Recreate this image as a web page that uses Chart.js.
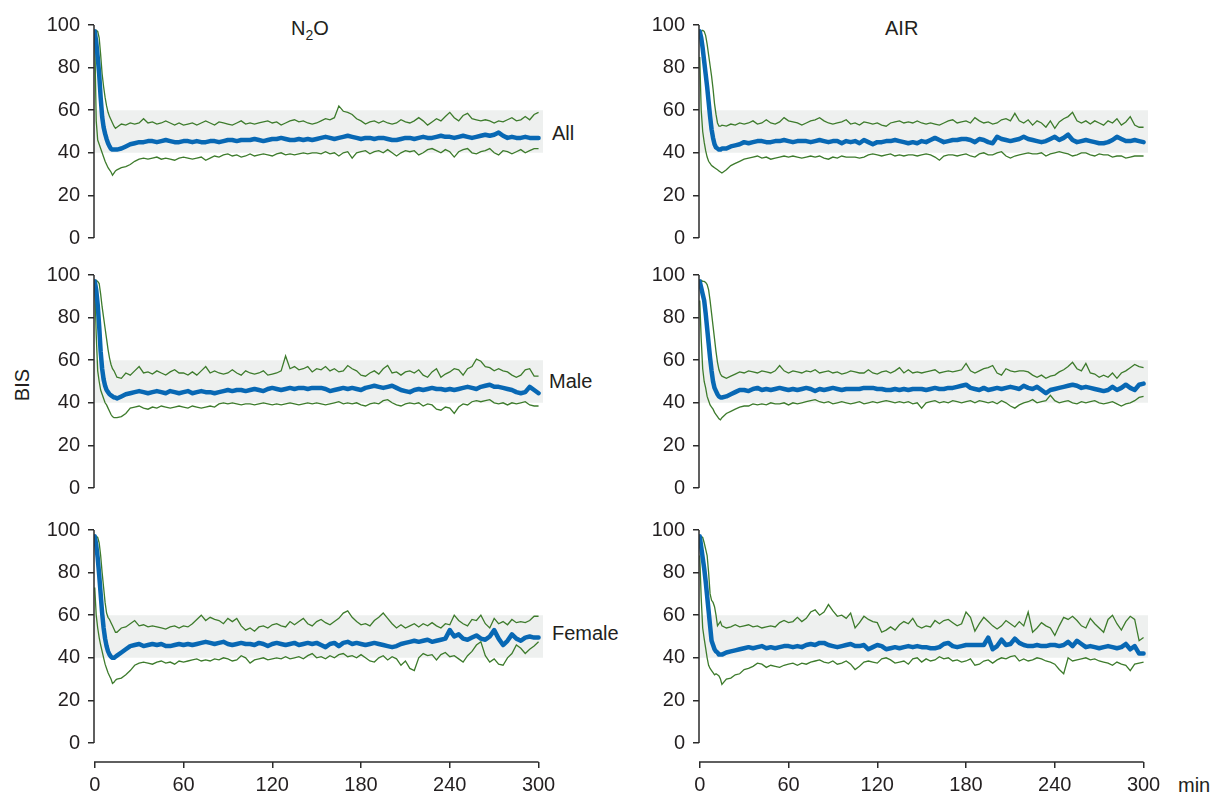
<!DOCTYPE html>
<html>
<head>
<meta charset="utf-8">
<script src="https://cdn.jsdelivr.net/npm/chart.js@4.4.1/dist/chart.umd.min.js"></script>
<style>
  body { margin: 0; background: #fff; width: 1216px; height: 797px; position: relative; overflow: hidden;
         font-family: "Liberation Sans", Arial, sans-serif; color: #231f20; }
  canvas { position: absolute; }
  .lbl { position: absolute; font-size: 20px; line-height: 20px; white-space: nowrap; }
  .lbl sub { font-size: 14px; vertical-align: -5px; line-height: 0; }
</style>
</head>
<body>
<div class="lbl" style="left:291px;top:18px">N<sub>2</sub>O</div>
<div class="lbl" style="left:885px;top:18px">AIR</div>
<div class="lbl" style="left:552px;top:123px">All</div>
<div class="lbl" style="left:549px;top:371px">Male</div>
<div class="lbl" style="left:552px;top:623px">Female</div>
<div class="lbl" style="left:5px;top:375px;transform:rotate(-90deg);width:34px;text-align:center">BIS</div>
<div class="lbl" style="left:1178px;top:775px">min</div>

<script>
// minutes after induction
const TIME = [0,1,2,3,4,5,6,7,8,9,10,11,12,13,14,
  15,18,21,24,27,30,33,36,39,42,45,48,51,54,57,
  60,63,66,69,72,75,78,81,84,87,90,93,96,99,102,
  105,108,111,114,117,120,123,126,129,132,135,138,141,144,147,
  150,153,156,159,162,165,168,171,174,177,180,183,186,189,192,
  195,198,201,204,207,210,213,216,219,222,225,228,231,234,237,
  240,243,246,249,252,255,258,261,264,267,270,273,276,279,282,
  285,288,291,294,297,300];

const X_TICKS = [0, 60, 120, 180, 240, 300];
const Y_TICKS = [0, 20, 40, 60, 80, 100];
const BAND = [40, 60];

// N2O - All
const N2O_ALL_MED = [97,92,85,77,66,57,52,49,46.5,44.5,43,41.8,41.5,41.5,41.5,
  41.5,42,43,44,44.5,45,45,45.5,45.5,45,45.5,46,45.5,45,45,
  45.5,45.5,45,45.5,45,45,45.5,45.5,45,45.5,46,46,45.5,46,46,
  46,46.5,46,45.5,46,46.5,46.5,47,46.5,46,46,46.5,46,46.5,46,
  46.5,47,47.5,47,46.5,47,47.5,48,47.5,47,46.5,47,47,46.5,47,
  47,46.5,46,46,46.5,47,47,46.5,47,47.5,47,47,47.5,48,47.5,
  47.5,47,47.5,48,47.5,47,47.5,48,48.5,48,48.5,49.5,48,47,47.5,
  47,47,47.5,47,47,47];
const N2O_ALL_HI = [97,97.5,97,94,86,77,71,66,62,59,57,55.5,54,52.5,51.5,
  52,53.5,53,54,53.5,54,56,54,54.5,53.5,54,55,54,53,54,
  53,53.5,54,53,54,55,54,53,54.5,54,53.5,53,54,55,53.5,
  54,53.5,54,54.5,55,54,54.5,53,54,55,55.5,54.5,55,54,53.5,
  54,55,56,55.5,56.5,62,59.5,59,58,56,55,53.5,54.5,55,54,
  55,54,53.5,54,55.5,54.5,54,55,56.5,55,53,54.5,56,55,57,
  59,56.5,55,57.5,58.5,56,55.5,55,55.5,55,54,55,54.5,55.5,56.5,
  55,55.5,57,55.5,58,59];
const N2O_ALL_LO = [95,55,46,44,42,40,38,36,34.5,33,32,31,29.5,30.5,31.5,
  32,33,33.5,34.5,36,37,37.5,37,37.5,38,37,37.5,37,36.5,37.5,
  38,37.5,37,37.5,38,36.5,37.5,38.5,38,39,39.5,38.5,39,38,38.5,
  39.5,38.5,39,39.5,39,38.5,39.5,40,39,39.5,39,39.5,40,39.5,40,
  40,39.5,40.5,39.5,40,38.5,40,40.5,37.5,40,40.5,41,39.5,40.5,41,
  40,41.5,40,38.5,40,41,40.5,41,39,40,41.5,42,41,40,41.5,
  40.5,38,40.5,41.5,42,40,39.5,40.5,41,42,40,39,41,40.5,39.5,
  40.5,41.5,40,41,42,42];

// AIR - All
const AIR_ALL_MED = [97,94,89,83,77,71,64,57,51,47,44,42.5,42,41.5,41.5,
  42,42,43,43.5,44,45,44.5,45,45.5,45.5,45,45,45.5,45.5,46,
  45.5,45,45.5,45.5,45.5,45,45.5,46,45.5,45,45.5,45.5,44.5,45.5,45,
  45.5,44.5,46,45,44,45,45,45.5,45.5,46,45.5,45,44.5,45,44.5,
  45.5,45,46,47,46,45,45.5,46,46,46.5,46.5,46,45,46.5,46,
  45,44.5,47.5,46.5,46,45.5,46,46.5,47.5,46.5,46,45.5,45,45.5,46.5,
  47.5,46,47,48.5,46,45,45.5,46,45.5,45,44.5,44.5,45,46,47.5,
  46.5,45.5,45.5,46,45.5,45];
const AIR_ALL_HI = [96,97,97.5,97,95,91,86,81,76,70,63,58,54,52.5,52.5,
  53,52.5,53.5,53,54,53.5,54,55,53.5,54,55.5,54,53.5,54.5,56.5,
  55,54.5,54,53,54,55,55.5,56.5,55,54,53.5,54,54.5,55.5,53.5,
  54,53,54.5,54,53.5,54,53,52.5,54,54.5,55,54,54.5,54,55,
  54,53.5,54,53.5,53,54,55,55.5,54,54.5,55,54,56.5,55,54,
  54.5,53.5,54,55.5,56,55,58.5,55,54,55.5,53,55,54,52,55,
  51.5,54.5,56,57,59,55,54,55,53.5,55,54,53,55,54,56,
  53,54.5,57,53,52,52];
const AIR_ALL_LO = [85,60,50,45,41,38,36,35,34,33.5,33,32.5,32,31.5,31,
  30.5,32,34,35,36,37,37.5,38,38.5,37.5,38,37,37.5,38,38.5,
  38,38.5,38,37.5,38,38.5,38,38.5,37.5,37,38,37.5,38.5,38,38,
  38,37.5,38,39,39.5,39,38.5,39,39.5,38.5,39,38.5,39,39,38.5,
  39,39.5,39,38,36.5,38.5,39,39,38.5,39,39.5,38.5,38,39.5,40,
  39,39,40,40.5,38.5,37.5,38.5,39,39.5,40,39.5,39.5,40,38.5,39.5,
  40,40.5,40,39.5,38.5,39,40,40,39,38.5,39.5,39,39,38,38.5,
  38.5,37.5,38,38.5,38.5,38.5];

// N2O - Male
const N2O_MALE_MED = [97,93,86,76,64,56,51,48,46,45,44,43.5,43,42.5,42.5,
  42,43,44,44.5,45,45.5,45,44.5,45,45.5,45,44.5,45.5,45,44.5,
  45,45.5,44.5,45,45.5,45,45,44.5,45,45.5,46,45.5,46,46,45.5,
  46,46.5,46,45.5,46.5,47,46.5,46,46.5,47,46.5,47,47,46.5,47,
  47,47,46.5,45.5,46,46.5,47,46.5,47,46.5,46,47,47.5,48,47.5,
  47,47.5,48,47,46,45.5,45,46,46.5,46,46.5,47,46.5,46.5,46,
  46.5,46,46.5,47,47.5,47,46.5,47.5,48,48.5,47.5,47.5,47,46.5,46,
  45,44.5,45,47.5,46,44.5];
const N2O_MALE_HI = [97,97.5,97,96,91,85,80,75,70,65,61,58,56,55,53.5,
  52,51.5,54,53,55,57,54,54.5,53.5,55,54,53,54.5,55.5,54,
  54,53,54.5,53,55,57,54,55,54,53.5,54,55.5,54,53,55,
  54,53.5,54,55,53,53.5,54,55,62,56,57,55.5,56,57,54.5,
  56,55.5,57,55,56,54.5,55,57.5,56,55,53,52.5,54,55,53.5,
  56,57.5,54,54.5,53,54.5,55,54,55.5,53,52,54.5,56,52,53.5,
  54.5,56,55.5,53,56,57,60.5,59.5,57,56.5,55,56,55,54.5,53,
  52,53,55.5,56,52.5,52.5];
const N2O_MALE_LO = [96,72,55,50,46,44,42,40,39,37.5,36,34.5,33.5,33,33,
  33,33.5,35,37.5,38,38.5,37.5,37,38,37.5,38.5,38,37.5,38,38.5,
  38,37.5,38.5,38,37.5,38,38.5,38,39.5,40,39.5,40,39.5,39,39.5,
  39.5,39,39.5,40,39.5,39,39.5,39,39.5,40,39.5,39,39.5,40,39.5,
  40,39.5,39,39.5,40,40.5,39.5,40,39.5,40,39,38.5,39.5,40,39.5,
  41,41.5,40,39,38.5,39.5,40,39.5,40,38.5,39.5,39,37,36.5,38,
  37.5,35,38,39.5,39,40.5,41,40.5,41,41.5,40,39.5,40,39,40,
  39.5,40,40.5,39,38.5,38.5];

// AIR - Male
const AIR_MALE_MED = [97,94,91,88,82,75,68,61,55,50,47,45.5,44,43,42.5,
  42.5,43,44,45,46,46,45.5,46.5,47,46,46.5,46,46.5,47,46.5,
  46,46.5,46,46.5,47,46.5,45.5,46.5,46,46.5,47,46.5,46,46.5,46.5,
  46.5,46.5,47,47,47,46.5,46.5,46,46,46.5,46,46.5,46,46.5,46.5,
  46.5,46,46.5,47,46.5,46.5,47,47,47.5,48,48.5,47,46.5,46,47,
  46,46.5,47,46.5,47,47.5,47,46.5,48,47,46.5,47.5,46,44.5,46,
  46.5,47,47.5,48,48.5,48,47,47.5,47,46.5,46,45.5,46,47.5,46,
  47,48.5,47,46,48.5,49];
const AIR_MALE_HI = [97,97.5,97,97,96.5,95.5,93,88,82,76,70,64,59,55.5,53.5,
  52.5,51.5,52.5,53.5,54.5,54,55,54.5,54,55,54.5,54,55,57.5,55,
  54,55,54.5,54,55,54.5,55.5,54,54.5,55,54,54.5,53.5,54,55,
  54.5,54,54,55.5,54,53.5,54.5,55,54,55,56.5,54,55.5,54,54.5,
  54,54.5,55,55.5,54,54.5,55,54.5,55,55.5,58.5,55,54,55,56,
  56.5,57.5,54,53,56,55,54.5,55,55,54.5,53,52,53,51.5,52.5,
  53,54.5,55.5,57,59,56,55,58.5,54,53.5,52,53,52,54,51.5,
  54,55,56.5,58,57,56.5];
const AIR_MALE_LO = [88,70,56,50,47,43,41,39,38,37,35.5,34.5,33.5,32.5,32,
  33,35,36,37,38,38.5,38.5,39.5,39,39.5,39,40,39.5,39.5,40,
  39,40,39.5,40,40.5,41,41.5,40.5,40,40.5,39.5,40,40.5,40,39.5,
  40,40.5,39.5,40,40.5,40,40.5,41,40.5,40,40.5,40,40.5,39.5,40,
  37.5,40,40.5,41,40,40.5,40,41,40.5,40,40.5,41,40,41,40.5,
  40,40.5,39.5,41,40,38.5,37.5,39,40,40.5,41.5,40,40.5,41,43.5,
  41,40,40.5,41,40,39.5,40.5,40,40.5,41,40,39.5,40,40.5,39.5,
  38.5,39.5,40,41,42.5,43];

// N2O - Female
const N2O_FEMALE_MED = [97,93,87,79,70,61,54,49,45.5,43,41.5,40.5,40,40,40.5,
  41,42.5,44,45.5,46,46.5,45.5,46,46.5,46,46.5,45.5,45.5,46,46.5,
  46,46.5,46,46.5,47,47.5,47,46.5,47,47.5,46.5,46,46.5,47,46.5,
  46.5,46,47,46.5,45.5,46.5,47,46.5,46,46.5,47,46,46.5,47,46.5,
  47,46,45,46.5,47,45.5,47,47.5,46.5,47,46.5,46,46.5,47,46.5,
  46,45.5,45,45.5,46.5,47,47.5,48,47.5,48,48.5,47.5,48,48.5,49,
  53,50,51,49,48.5,49.5,50.5,49,48.5,50,53,49,46,48,51,
  49,48,49.5,50,49.5,49.5];
const N2O_FEMALE_HI = [97.5,97,96.5,94,88,80,73,66,61,59,58,56.5,55,53.5,52,
  52,54,54.5,56,57.5,55,55.5,54.5,55,54.5,54,53.5,54.5,55,54,
  55,54.5,56,58,60,57.5,59,58,57.5,56,58.5,57,58.5,55,53,
  54,52.5,54.5,55,54,55.5,56,55,54.5,57,55.5,57,58.5,56,55,
  57,58,56.5,55.5,57,58.5,61,62,59,57,55.5,56,55,57.5,59,
  61,58.5,56,54,55.5,54,55,56,54.5,56,55,56.5,55,54,56,
  55.5,60,57.5,56,55,58,57.5,60,56,54,58.5,56,57,55.5,58,
  56.5,57,56.5,57.5,59.5,59.5];
const N2O_FEMALE_LO = [73,60,54,49.5,46,43,40,37,35,33,31.5,30,28,28.5,29.5,
  30,30.5,32,34,36.5,37.5,38,37.5,37,38,38.5,37.5,38,37,38.5,
  38,38.5,39,39.5,38.5,39,38.5,39.5,39,40,39.5,38.5,39,41,40,
  37.5,39,39.5,40,39,39.5,40,39.5,40.5,39.5,40,40.5,39.5,41,42,
  40,40.5,39.5,41,40,41.5,42,40.5,41,40,41.5,40,38.5,38,40,
  41,39,40.5,39.5,36.5,38.5,35,34,40,42,41,41.5,39,41.5,42.5,
  40.5,41,39.5,38,41,43,46,47.5,41,38,39.5,37,36.5,40,42,
  46,44.5,42,44,45.5,47.5];

// AIR - Female
const AIR_FEMALE_MED = [97,92,87,82,76,69,62,55,48,46,44,43,42.5,41.5,41.5,
  41.5,42.5,43,43.5,44,44.5,45,44.5,45,45.5,44.5,45,44.5,45,45.5,
  45.5,45,45.5,45,46,46.5,46,47,47,46,45.5,45,45.5,46,46.5,
  45.5,45.5,46,44,45,46,45.5,44,44.5,45,44.5,45,45.5,45,45.5,
  45,45,44.5,44.5,45,46.5,47,45.5,45,45.5,46,46,46,46,46,
  49.5,44,45.5,48.5,46,46.5,49,47,46,45.5,45.5,46,45.5,45.5,46,
  46,45.5,46,47.5,45.5,48,46.5,45,45.5,45,44.5,45,45.5,45,44.5,
  45,46.5,44,45.5,42,42];
const AIR_FEMALE_HI = [97,97,96.5,94,91,88,80,70,67,66,64,60,55,56,57,
  55,54,54.5,55.5,54.5,55,55.5,54.5,55,54,54.5,55,54.5,56.5,57.5,
  56.5,57,59,57,58.5,61.5,62.5,60,61.5,65,62,59.5,60,58.5,61,
  54,56.5,59.5,58,57,56.5,52,53,54.5,53,55.5,57,56,58.5,55,
  54,55,54.5,57.5,56,57.5,58,56.5,55,56,61.5,59,52.5,56,59,
  57,55,53.5,55,57.5,56,54.5,57,55,61.5,52,54,56.5,55,54,
  50.5,55,59,58,59.5,57.5,55,54,58.5,56,54,52,58,60,56,
  53,57,59.5,58,48,49.5];
const AIR_FEMALE_LO = [88,68,54,49,44.5,40,36.5,35,34,33,32,32.5,32,31.5,30,
  27.5,30,30.5,32,32.5,34.5,35,36,37.5,37,35.5,36.5,36,35.5,36.5,
  37,37.5,36.5,37.5,37,38,38.5,39,38,37.5,38.5,37,37.5,38.5,37,
  34.5,36,38,38.5,38,37.5,39.5,40,39,37.5,38,38.5,37,39.5,40,
  38,39.5,38.5,39,40.5,39.5,40,38.5,39,38,38.5,39.5,36.5,37,38.5,
  39,37.5,39,40,39.5,40.5,41,38.5,39.5,38.5,39,40,39.5,38.5,38,
  37,34.5,32.5,40,38.5,39,39.5,40,39,39.5,38.5,38,37.5,36.5,38,
  37,36.5,34,37,37.5,38];

const BLUE = '#0868b4';
const GREEN = '#3d7b2c';
const BAND_COLOR = '#eef0ef';
const AXIS_COLOR = '#2b2b2b';

Chart.defaults.font.family = '"Liberation Sans", Arial, sans-serif';
Chart.defaults.font.size = 20;
Chart.defaults.color = '#231f20';

const PX_PER_MIN = 1.48;
const PX_PER_BIS = 2.13;
const X_MIN = -0.5, X_MAX = 303;
// top/bottom padding must exceed half a tick label plus tick padding, or Chart.js shrinks the area
const Y_AXIS_W = 70, PAD_T = 26, PAD_R = 20, PAD_B = 26, X_AXIS_H = 45;

// draws the axis spines only over 0-100 and 0-300, like the original
const axisLines = {
    id: 'axisLines',
    afterDraw(chart) {
        const { ctx, chartArea, scales: { x, y } } = chart;
        ctx.save();
        ctx.strokeStyle = AXIS_COLOR;
        ctx.lineWidth = 1.5;
        ctx.beginPath();
        ctx.moveTo(chartArea.left, y.getPixelForValue(100));
        ctx.lineTo(chartArea.left, y.getPixelForValue(0));
        if (x.options.display) {
            ctx.moveTo(chartArea.left, chartArea.bottom);
            ctx.lineTo(x.getPixelForValue(300), chartArea.bottom);
        }
        ctx.stroke();
        ctx.restore();
    }
};

function toPoints(values) {
    return TIME.map((t, i) => ({ x: t, y: values[i] }));
}

function makePanel(left, top, showX, med, hi, lo) {
    const areaW = Math.round((X_MAX - X_MIN) * PX_PER_MIN);
    const areaH = showX ? 232 : 213;
    const yMin = showX ? -(areaH - 100 * PX_PER_BIS) / PX_PER_BIS : 0;

    const canvas = document.createElement('canvas');
    canvas.width = Y_AXIS_W + areaW + PAD_R;
    canvas.height = PAD_T + areaH + (showX ? X_AXIS_H : PAD_B);
    canvas.style.left = (left - Y_AXIS_W) + 'px';
    canvas.style.top = (top - PAD_T) + 'px';
    document.body.appendChild(canvas);

    const grid = {
        drawOnChartArea: false,
        drawTicks: true,
        tickLength: 6,
        color: AXIS_COLOR,
        lineWidth: 1.5
    };

    new Chart(canvas.getContext('2d'), {
        type: 'line',
        data: {
            datasets: [
                { data: toPoints(med), borderColor: BLUE, borderWidth: 4.5, borderJoinStyle: 'round', borderCapStyle: 'round' },
                { data: toPoints(hi), borderColor: GREEN, borderWidth: 1.3 },
                { data: toPoints(lo), borderColor: GREEN, borderWidth: 1.3 },
                { data: [{ x: X_MIN, y: BAND[0] }, { x: X_MAX, y: BAND[0] }], borderWidth: 0, borderColor: 'transparent' },
                { data: [{ x: X_MIN, y: BAND[1] }, { x: X_MAX, y: BAND[1] }], borderWidth: 0, borderColor: 'transparent',
                  fill: '-1', backgroundColor: BAND_COLOR }
            ]
        },
        options: {
            responsive: false,
            animation: false,
            devicePixelRatio: 1,
            layout: { padding: { left: 0, top: PAD_T, right: PAD_R, bottom: showX ? 0 : PAD_B } },
            elements: { point: { radius: 0 }, line: { tension: 0 } },
            plugins: {
                legend: { display: false },
                tooltip: { enabled: false },
                filler: { drawTime: 'beforeDatasetsDraw' }
            },
            scales: {
                x: {
                    type: 'linear',
                    min: X_MIN,
                    max: X_MAX,
                    display: showX,
                    border: { display: false },
                    grid: grid,
                    ticks: { padding: 5, maxRotation: 0 },
                    afterBuildTicks: (s) => { s.ticks = X_TICKS.map(v => ({ value: v })); },
                    afterFit: (s) => { if (showX) s.height = X_AXIS_H; }
                },
                y: {
                    min: yMin,
                    max: 100,
                    border: { display: false },
                    grid: grid,
                    ticks: { padding: 8 },
                    afterBuildTicks: (s) => { s.ticks = Y_TICKS.map(v => ({ value: v })); },
                    afterFit: (s) => { s.width = Y_AXIS_W; }
                }
            }
        },
        plugins: [axisLines]
    });
}

makePanel(94, 25, false, N2O_ALL_MED, N2O_ALL_HI, N2O_ALL_LO);
makePanel(699, 25, false, AIR_ALL_MED, AIR_ALL_HI, AIR_ALL_LO);
makePanel(94, 275, false, N2O_MALE_MED, N2O_MALE_HI, N2O_MALE_LO);
makePanel(699, 275, false, AIR_MALE_MED, AIR_MALE_HI, AIR_MALE_LO);
makePanel(94, 530, true, N2O_FEMALE_MED, N2O_FEMALE_HI, N2O_FEMALE_LO);
makePanel(699, 530, true, AIR_FEMALE_MED, AIR_FEMALE_HI, AIR_FEMALE_LO);
</script>
</body>
</html>
